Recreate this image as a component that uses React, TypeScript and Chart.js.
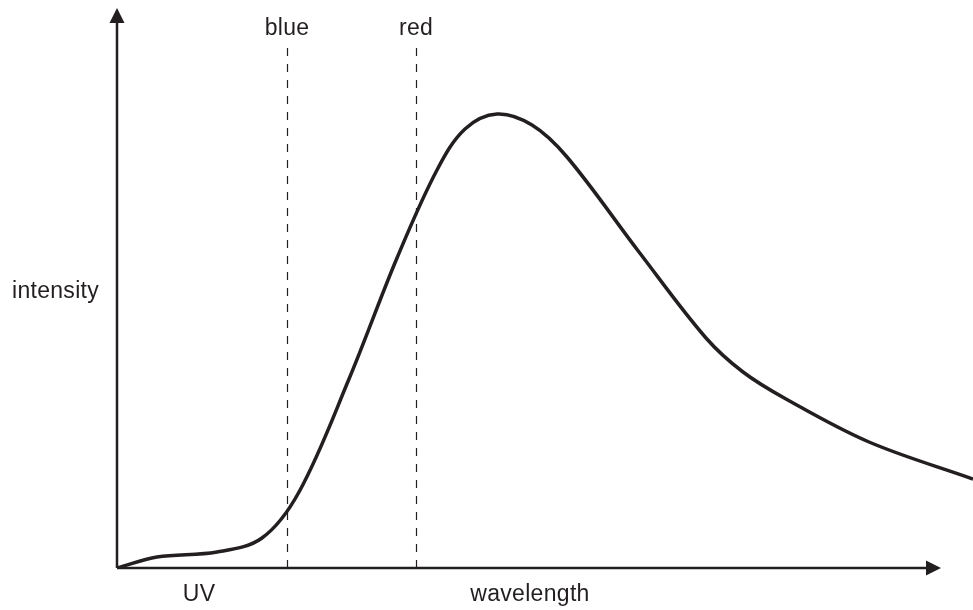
import React, { useEffect, useRef } from "react";
import { Chart, registerables } from "chart.js";

Chart.register(...registerables);

// Spectrum curve (arbitrary units)
const wavelength = [0, 40, 100, 145, 182, 232, 280, 320, 348, 380, 415, 450, 522, 589, 626, 669, 752, 856];
const intensity = [0, 11, 16, 30, 76, 189, 310, 398, 439, 454, 443, 411, 316, 230, 196, 169, 126, 89];

// Marker lines and axis labels
const markerPositions = [170, 299];
const markerLabels = ["blue", "red"];
const bottomLabels = ["UV", "wavelength"];
const bottomLabelPositions = [82, 413];
const yLabel = "intensity";

const X_MAX = 856;
const Y_MAX = 560;
const INK = "#231f20";
const FONT = '23px "Liberation Sans", Arial, sans-serif';

const decorPlugin = {
  id: "decor",
  afterDatasetsDraw(chart: any) {
    const ctx = chart.ctx as CanvasRenderingContext2D;
    const xs = chart.scales.x;
    const ys = chart.scales.y;
    const x0 = xs.getPixelForValue(0);
    const y0 = ys.getPixelForValue(0);
    ctx.save();
    // dashed markers
    ctx.strokeStyle = INK;
    ctx.lineWidth = 1.2;
    ctx.setLineDash([8, 8]);
    markerPositions.forEach((v) => {
      const px = Math.round(xs.getPixelForValue(v)) + 0.5;
      ctx.beginPath();
      ctx.moveTo(px, 48);
      ctx.lineTo(px, y0);
      ctx.stroke();
    });
    ctx.setLineDash([]);
    // axes
    ctx.lineWidth = 2.5;
    ctx.beginPath();
    ctx.moveTo(x0, y0);
    ctx.lineTo(x0, 20);
    ctx.moveTo(x0, y0);
    ctx.lineTo(928, y0);
    ctx.stroke();
    ctx.fillStyle = INK;
    // y arrow
    ctx.beginPath();
    ctx.moveTo(x0, 8);
    ctx.lineTo(x0 - 7.5, 23);
    ctx.lineTo(x0 + 7.5, 23);
    ctx.closePath();
    ctx.fill();
    // x arrow
    ctx.beginPath();
    ctx.moveTo(941, y0);
    ctx.lineTo(926, y0 - 7.5);
    ctx.lineTo(926, y0 + 7.5);
    ctx.closePath();
    ctx.fill();
    // labels
    ctx.font = FONT;
    (ctx as any).letterSpacing = "0.3px";
    ctx.textBaseline = "alphabetic";
    ctx.textAlign = "center";
    markerPositions.forEach((v, i) => {
      ctx.fillText(markerLabels[i], xs.getPixelForValue(v), 35);
    });
    bottomLabels.forEach((t, i) => {
      ctx.fillText(t, xs.getPixelForValue(bottomLabelPositions[i]), 601);
    });
    ctx.textAlign = "left";
    ctx.fillText(yLabel, 12, 298);
    ctx.restore();
  },
};

export default function App() {
  const ref = useRef<HTMLCanvasElement>(null);
  useEffect(() => {
    document.body.style.margin = "0";
    const chart = new Chart(ref.current!, {
      type: "line",
      data: {
        datasets: [
          {
            data: wavelength.map((x, i) => ({ x, y: intensity[i] })),
            borderColor: INK,
            borderWidth: 3.5,
            pointRadius: 0,
            tension: 0.35,
            fill: false,
          },
        ],
      },
      options: {
        responsive: false,
        animation: false,
        layout: { padding: { left: 117, right: 0, top: 8, bottom: 42 } },
        plugins: { legend: { display: false }, tooltip: { enabled: false } },
        scales: {
          x: { type: "linear", min: 0, max: X_MAX, display: false },
          y: { type: "linear", min: 0, max: Y_MAX, display: false },
        },
      },
      plugins: [decorPlugin],
    });
    return () => chart.destroy();
  }, []);
  return <canvas ref={ref} width={973} height={610} style={{ display: "block" }} />;
}
